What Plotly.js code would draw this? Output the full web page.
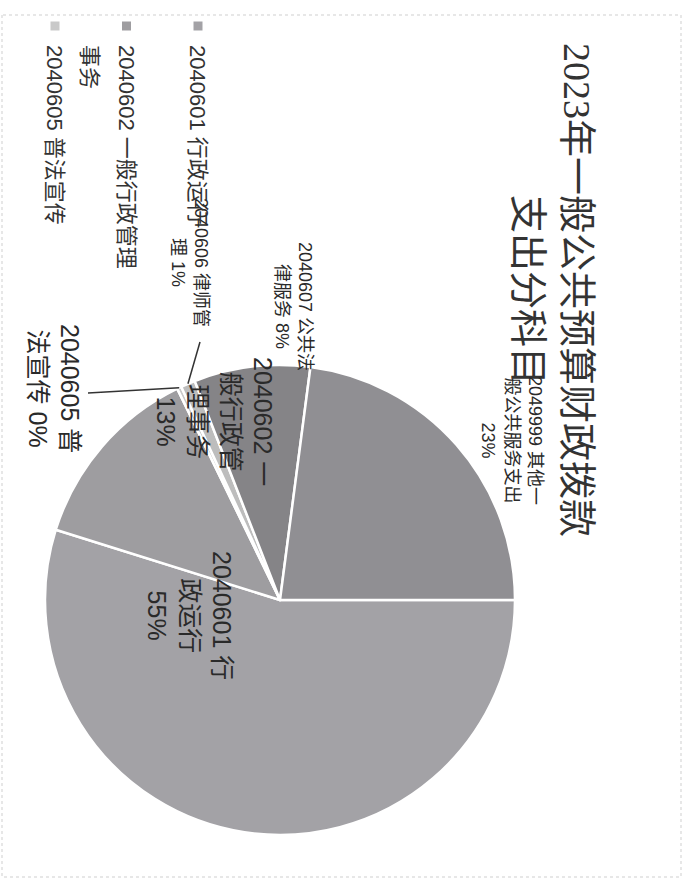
<!DOCTYPE html>
<html>
<head>
<meta charset="utf-8">
<script src="https://cdn.plot.ly/plotly-3.0.1.min.js"></script>
<style>
  html, body { margin: 0; padding: 0; background: #ffffff; overflow: hidden; }
  #wrap { position: relative; width: 684px; height: 880px; overflow: hidden; background: #ffffff; }
  #chart { position: absolute; left: 0; top: 0; width: 880px; height: 684px;
           transform-origin: 0 0; transform: translateX(684px) rotate(90deg); }
</style>
</head>
<body>
<div id="wrap"><div id="chart"></div></div>
<script>
// ---- data ----
const categories = ['2040601 行政运行', '2040602 一般行政管理事务', '2040605 普法宣传',
                    '2040606 律师管理', '2040607 公共法律服务', '2049999 其他一般公共服务支出'];
const values = [55, 13, 0.3, 1, 8, 23];
// legend lines as printed (only the first three entries are visible in the source picture)
const legendLines = [['2040601 行政运行'], ['2040602 一般行政管理', '事务'], ['2040605 普法宣传']];
const wrappedNames = ['2040601 行<br>政运行', '2040602 一<br>般行政管<br>理事务', '2040605 普<br>法宣传',
                      '2040606 律师管<br>理', '2040607 公共法<br>律服务', '2049999 其他一<br>般公共服务支出'];
const pctSep = ['<br>', '<br>', ' ', ' ', ' ', '<br>'];
const sliceColors = ['#a3a2a6', '#9e9da0', '#c9c9c9', '#bdbdbd', '#858487', '#908f93'];
const titleText = '2023年一般公共预算财政拨款<br>支出分科目';

// ---- geometry (chart drawn in its own upright frame, then turned with CSS) ----
const W = 880, H = 684;
const CX = 600, CY = 404, R = 235;
const P = (X, Y) => ({ x: X / W, y: 1 - Y / H });
const FONT = 'Liberation Sans, "Noto Sans CJK SC", sans-serif';

const total = values.reduce((a, b) => a + b, 0);
function edgePoint(i) {
  let before = 0;
  for (let k = 0; k < i; k++) before += values[k];
  const f = (before + values[i] / 2) / total;
  const t = 2 * Math.PI * f;
  return P(CX + R * Math.sin(t), CY - R * Math.cos(t));
}
const pctText = values.map(v => Math.round(v / total * 100) + '%');
const labelText = wrappedNames.map((n, i) => n + pctSep[i] + pctText[i]);

// slice labels: centre of each text block and size
const labelPos = [[615, 494], [421, 470], [388, 630], [262, 494], [306, 390], [440, 172]];
const labelSize = [25, 25, 25, 18, 18, 18];

const annotations = labelText.map((t, i) => {
  const p = P(labelPos[i][0], labelPos[i][1]);
  return {
    text: t, x: p.x, y: p.y, xref: 'paper', yref: 'paper',
    xanchor: 'center', yanchor: 'middle', align: 'center', showarrow: false,
    font: { size: labelSize[i], color: '#2a2a2a', family: FONT }
  };
});

const shapes = [];
// frame
const frameA = P(15, 3), frameB = P(877, 682);
shapes.push({ type: 'rect', xref: 'paper', yref: 'paper', x0: frameA.x, y0: frameB.y, x1: frameB.x, y1: frameA.y,
              line: { color: '#cfcfcf', width: 1, dash: 'dot' } });
// leader lines to the two thin slices
const e606 = edgePoint(3), e605 = edgePoint(2);
const a606 = P(342, 484), a605 = P(393, 596);
shapes.push({ type: 'line', xref: 'paper', yref: 'paper', x0: a606.x, y0: a606.y, x1: e606.x, y1: e606.y,
              line: { color: '#333333', width: 1.5 } });
shapes.push({ type: 'line', xref: 'paper', yref: 'paper', x0: a605.x, y0: a605.y, x1: e605.x, y1: e605.y,
              line: { color: '#333333', width: 1.5 } });

// legend (Excel style, roomy rows)
const LEG_X = 26, LEG_Y0 = 486, LEG_STEP = 71.5, LEG_LINE = 37, LEG_BOX = 9;
legendLines.forEach((lines, i) => {
  const yc = LEG_Y0 + i * LEG_STEP;
  const a = P(LEG_X - LEG_BOX / 2, yc - LEG_BOX / 2), b = P(LEG_X + LEG_BOX / 2, yc + LEG_BOX / 2);
  shapes.push({ type: 'rect', xref: 'paper', yref: 'paper', x0: a.x, y0: b.y, x1: b.x, y1: a.y,
                fillcolor: sliceColors[i], line: { width: 0 } });
  lines.forEach((s, j) => {
    const p = P(LEG_X + 17, yc + j * LEG_LINE);
    annotations.push({ text: s, x: p.x, y: p.y, xref: 'paper', yref: 'paper',
                       xanchor: 'left', yanchor: 'middle', showarrow: false,
                       font: { size: 22, color: '#333333', family: FONT } });
  });
});

const trace = {
  type: 'pie',
  labels: categories,
  values: values,
  sort: false,
  direction: 'clockwise',
  rotation: 0,
  textinfo: 'none',
  hoverinfo: 'label+percent',
  marker: { colors: sliceColors, line: { color: '#ffffff', width: 2.5 } },
  domain: { x: [(CX - R) / W, (CX + R) / W], y: [1 - (CY + R) / H, 1 - (CY - R) / H] },
  showlegend: false
};

const layout = {
  width: W, height: H,
  margin: { l: 0, r: 0, t: 0, b: 0 },
  paper_bgcolor: '#ffffff',
  plot_bgcolor: '#ffffff',
  showlegend: false,
  title: {
    text: titleText, x: 290 / W, xref: 'container', xanchor: 'center',
    y: 1 - 120 / H, yref: 'container', yanchor: 'top',
    font: { size: 38, color: '#333333', family: 'Liberation Serif, "Noto Sans CJK SC", serif' }
  },
  annotations: annotations,
  shapes: shapes
};

Plotly.newPlot('chart', [trace], layout, { displayModeBar: false, staticPlot: true });
</script>
</body>
</html>
